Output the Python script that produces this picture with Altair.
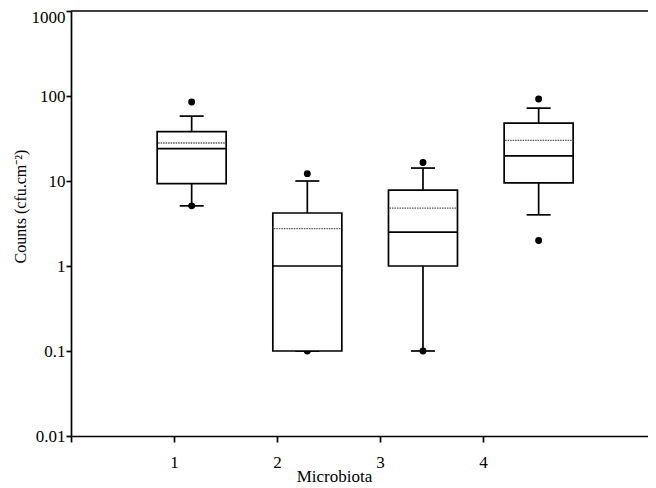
import altair as alt
import pandas as pd

# ---- data ----
categories = [1, 2, 3, 4]
q1 = [9.3, 0.1, 1.0, 9.5]
q3 = [38, 4.2, 7.8, 48]
medians = [24, 1.0, 2.5, 19.7]
means = [28, 2.75, 4.8, 30]
whisker_low = [5.1, 0.1, 0.1, 4.0]
whisker_high = [58, 10, 14.2, 72]
outlier_cat = [1, 1, 2, 2, 3, 3, 4, 4]
outlier_val = [85, 5.1, 12.2, 0.1, 16.5, 0.1, 92, 2.0]
y_ticks = [0.01, 0.1, 1, 10, 100, 1000]
x_ticks = [0, 1, 2, 3, 4]

W, H = 577, 425
BOX_W, CAP_W = 69, 24
FONT = "Liberation Serif"
LW = 1.7

boxes = pd.DataFrame({
    "cat": categories, "q1": q1, "q3": q3, "median": medians,
    "mean": means, "lo": whisker_low, "hi": whisker_high,
})
outliers = pd.DataFrame({"cat": outlier_cat, "val": outlier_val})

yscale = alt.Scale(type="log", domain=[0.01, 1000])
yaxis = alt.Axis(
    values=y_ticks, format="~g", title="Counts (cfu.cm⁻²)",
    titleX=-51, titleY=195, titleBaseline="middle", titleAlign="center",
    titleAngle=270, titleFontSize=16, titleFontWeight="normal",
    labelFontSize=17, labelPadding=1, tickSize=5, grid=False,
    labelOffset={"condition": {"test": "datum.value >= 1000", "value": 6}, "value": 0},
)
xbox = alt.X("cat:Q", scale=alt.Scale(domain=[0, W / 117.7]), axis=None)

# axis layer (ticks and top frame line)
frame = alt.Chart(pd.DataFrame({"a": [0]})).mark_rule(color="black", strokeWidth=LW).encode(
    x=alt.X(datum=0, type="quantitative", scale=alt.Scale(domain=[0, W / 103.0]),
            axis=alt.Axis(values=x_ticks, labelExpr="datum.value == 0 ? '' : datum.label",
                          title="Microbiota", titleX=263, titleY=45,
                          titleBaseline="alphabetic", titleAlign="center",
                          titleFontSize=17, titleFontWeight="normal",
                          labelFontSize=17, labelPadding=12, tickSize=6, grid=False)),
    x2=alt.X2(datum=W / 103.0),
    y=alt.Y(datum=1000, type="quantitative", scale=yscale, axis=yaxis),
)

base = alt.Chart(boxes)
whisk = base.mark_rule(color="black", strokeWidth=LW).encode(
    x=xbox, y=alt.Y("lo:Q", scale=yscale, axis=yaxis), y2="hi:Q")
cap_lo = base.mark_rule(color="black", strokeWidth=LW, xOffset=-CAP_W / 2, x2Offset=CAP_W / 2).encode(
    x=xbox, x2="cat:Q", y=alt.Y("lo:Q", scale=yscale, axis=yaxis))
cap_hi = base.mark_rule(color="black", strokeWidth=LW, xOffset=-CAP_W / 2, x2Offset=CAP_W / 2).encode(
    x=xbox, x2="cat:Q", y=alt.Y("hi:Q", scale=yscale, axis=yaxis))
pts = alt.Chart(outliers).mark_circle(color="black", opacity=1, size=48).encode(
    x=xbox, y=alt.Y("val:Q", scale=yscale, axis=yaxis))
box = base.mark_bar(fill="white", stroke="black", strokeWidth=LW, size=BOX_W, orient="vertical").encode(
    x=xbox, y=alt.Y("q1:Q", scale=yscale, axis=yaxis), y2="q3:Q")
med = base.mark_rule(color="black", strokeWidth=LW, xOffset=-BOX_W / 2, x2Offset=BOX_W / 2).encode(
    x=xbox, x2="cat:Q", y=alt.Y("median:Q", scale=yscale, axis=yaxis))
mean = base.mark_rule(color="#555", strokeWidth=1.3, strokeDash=[1.5, 1],
                      xOffset=-BOX_W / 2 + 1, x2Offset=BOX_W / 2 - 1).encode(
    x=xbox, x2="cat:Q", y=alt.Y("mean:Q", scale=yscale, axis=yaxis))

boxlayer = alt.layer(whisk, cap_lo, cap_hi, pts, box, med, mean)

chart = alt.layer(frame, boxlayer).resolve_scale(x="independent").properties(
    width=W, height=H,
    autosize=alt.AutoSizeParams(type="none"),
    padding={"left": 63, "top": 3, "right": 0, "bottom": 52},
).configure_view(stroke=None).configure_axis(
    domainColor="black", tickColor="black", labelColor="black", titleColor="black",
    domainWidth=LW, tickWidth=LW, labelFont=FONT, titleFont=FONT,
)

chart.save("out.html", embed_options={"renderer": "svg", "actions": False})
